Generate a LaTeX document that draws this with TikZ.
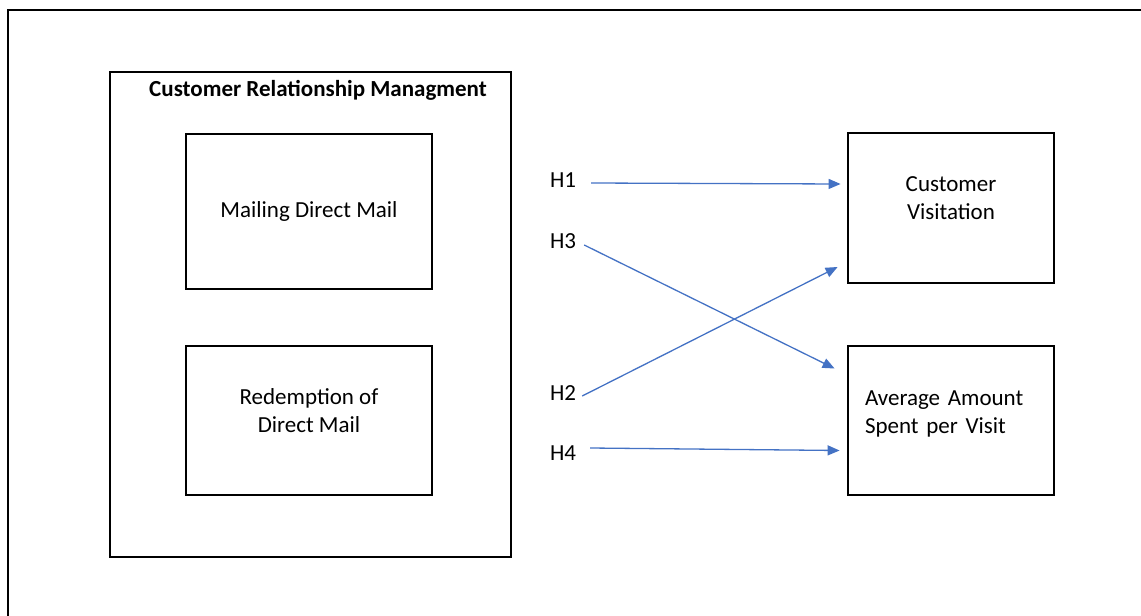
\documentclass[tikz,border=0pt]{standalone}
\usepackage{fontspec}
\setmainfont{Carlito}
\usetikzlibrary{arrows.meta}
\definecolor{myarrowblue}{RGB}{68,114,196}
\newcommand{\widthfactor}{246pt}
\newcommand{\widthoutcome}{206pt}
\newcommand{\heightfactor}{153pt}
\tikzset{
    common/.style={draw, rectangle, line width=2.8pt, inner sep=0pt},
    factor/.style={common, minimum width=\widthfactor, minimum height=\heightfactor, align=center, font=\fontsize{23}{28}\selectfont},
    outcome/.style={factor, minimum width=\widthoutcome},
    raised/.style={text depth=#1},
    hyp/.style={inner sep=6pt, font=\fontsize{23}{26}\selectfont},
    link/.style={draw=myarrowblue, line width=1.3pt, -{Triangle[length=12pt, width=10pt]}}
}

\begin{document}
\begin{tikzpicture}[x=1pt, y=-1pt]
            \useasboundingbox (0,0) rectangle (1141,616);
            \draw[line width=1.3pt] (8,616) -- (8,10) -- (1141,10);

            \node[common, minimum width=401pt, minimum height=485pt] (crm) at (310.5,314.5) {};
            \node[font=\fontsize{23}{26}\selectfont\bfseries] (crm-title) at (318,90) {Customer Relationship Managment};
            \node[factor, minimum height=155pt] (mailing) at (309,211.5) {Mailing Direct Mail};
            \node[factor, minimum height=149pt, raised=20pt] (redemption) at (309,420.5) {Redemption of\\Direct Mail};

            \node[outcome, minimum height=150pt, raised=20pt] (visit) at (951,208) {Customer\\Visitation};
            \node[outcome, minimum height=149pt, align=left, text width=172pt, raised=44pt] (amount) at (951,420.5) {Average Amount\\Spent per Visit};

            \node[hyp] (h1) at (563,180) {H1};
            \node[hyp] (h3) at (563,241) {H3};
            \node[hyp] (h2) at (563,393) {H2};
            \node[hyp] (h4) at (563,453) {H4};

            \draw[link] ([xshift=9pt, yshift=-3pt]h1.east) -- ([xshift=-6pt, yshift=24pt]visit.west);
            \draw[link] ([xshift=2pt, yshift=-4pt]h3.east) -- ([xshift=-12pt, yshift=52pt]amount.west);
            \draw[link] ([yshift=-3pt]h2.east) -- ([xshift=-9pt, yshift=-59pt]visit.west);
            \draw[link] ([xshift=8pt, yshift=5pt]h4.east) -- ([xshift=-7pt, yshift=-30pt]amount.west);
\end{tikzpicture}
\end{document}
